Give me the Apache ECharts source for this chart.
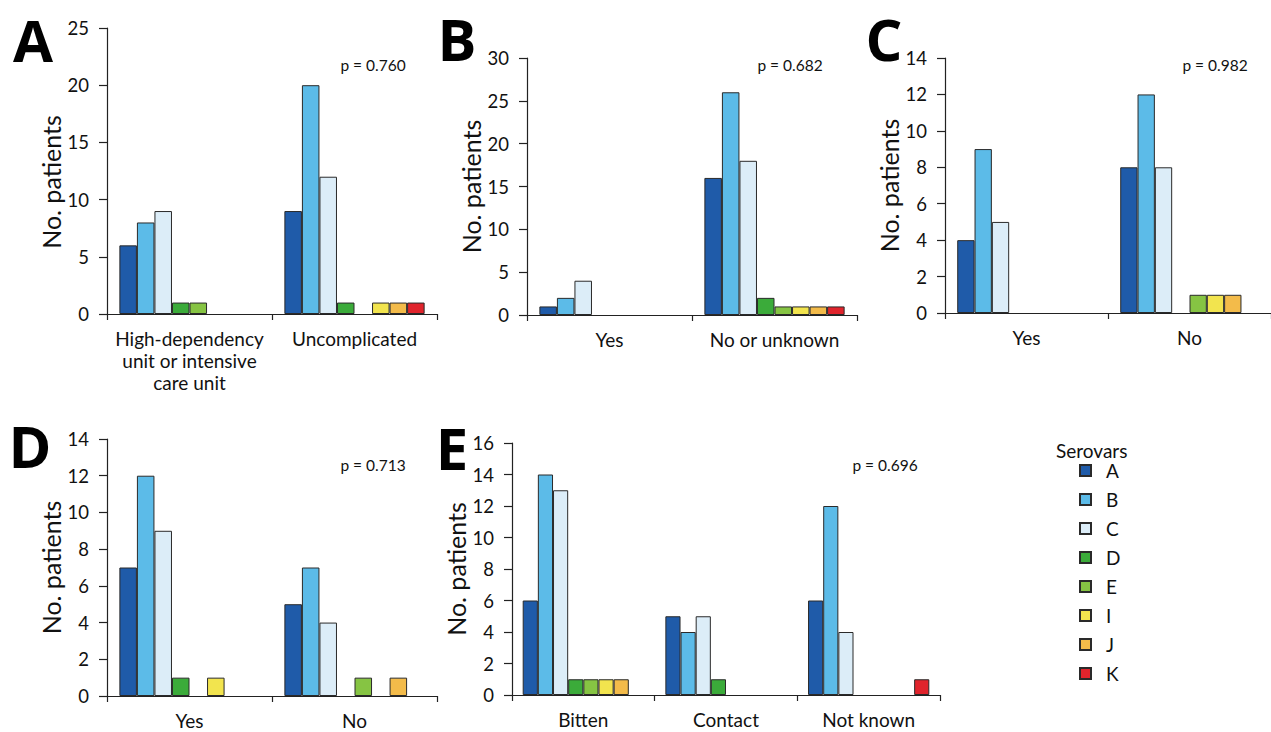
<!DOCTYPE html>
<html>
<head>
<meta charset="utf-8">
<script src="https://cdn.jsdelivr.net/npm/echarts@6/dist/echarts.min.js"></script>
<style>
html,body{margin:0;padding:0;background:#fff;}
#chart{width:1271px;height:732px;}
</style>
</head>
<body>
<div id="chart"></div>
<script>
// ---- data ----
var serovars = ['A', 'B', 'C', 'D', 'E', 'I', 'J', 'K'];
var serovarColors = ['#1f5ba9', '#5cbbe8', '#dcedf8', '#3bab3a', '#86c443', '#f2e44e', '#f3bb4a', '#e0242c'];

// Panel A: severity
var catsA = ['High-dependency\nunit or intensive\ncare unit', 'Uncomplicated'];
var a_hdu = [6, 8, 9, 1, 1, 0, 0, 0];
var a_uncomplicated = [9, 20, 12, 1, 0, 1, 1, 1];
var pA = 'p = 0.760';

// Panel B
var catsB = ['Yes', 'No or unknown'];
var b_yes = [1, 2, 4, 0, 0, 0, 0, 0];
var b_no = [16, 26, 18, 2, 1, 1, 1, 1];
var pB = 'p = 0.682';

// Panel C
var catsC = ['Yes', 'No'];
var c_yes = [4, 9, 5, 0, 0, 0, 0, 0];
var c_no = [8, 12, 8, 0, 1, 1, 1, 0];
var pC = 'p = 0.982';

// Panel D
var catsD = ['Yes', 'No'];
var d_yes = [7, 12, 9, 1, 0, 1, 0, 0];
var d_no = [5, 7, 4, 0, 1, 0, 1, 0];
var pD = 'p = 0.713';

// Panel E
var catsE = ['Bitten', 'Contact', 'Not known'];
var e_bitten = [6, 14, 13, 1, 1, 1, 1, 0];
var e_contact = [5, 4, 5, 1, 0, 0, 0, 0];
var e_notknown = [6, 12, 4, 0, 0, 0, 0, 1];
var pE = 'p = 0.696';

// y-axis tick settings
var yMaxes = [25, 30, 14, 14, 16];
var yIntervals = [5, 5, 2, 2, 2];

var panels = [
  { letter: 'A', cats: catsA, groups: [a_hdu, a_uncomplicated], p: pA },
  { letter: 'B', cats: catsB, groups: [b_yes, b_no], p: pB },
  { letter: 'C', cats: catsC, groups: [c_yes, c_no], p: pC },
  { letter: 'D', cats: catsD, groups: [d_yes, d_no], p: pD },
  { letter: 'E', cats: catsE, groups: [e_bitten, e_contact, e_notknown], p: pE }
];

// ---- layout (pixels) ----
var gridBoxes = [
  { left: 107, top: 28, width: 330, height: 286 },
  { left: 527, top: 58, width: 330, height: 257 },
  { left: 945, top: 58, width: 326, height: 255 },
  { left: 107, top: 439, width: 330, height: 257 },
  { left: 512, top: 443, width: 428, height: 252 }
];
var letterPos = [[33, 39], [457, 38], [884, 38], [30, 445], [452, 447]];
var pPos = [[373, 65], [790, 65], [1215, 65], [373, 465], [885, 465]];
var yNamePadding = [[0, 22, 0, 0], [0, 0, 0, 0], [0, 0, 0, 0], [0, 0, 0, 0], [0, 0, 0, 0]];

var FONT = 'Lato, "Open Sans", sans-serif';
var TXT = '#111';

var grids = [], xAxes = [], yAxes = [], series = [], graphics = [];

panels.forEach(function (p, i) {
  var g = gridBoxes[i];
  grids.push({ left: g.left, top: g.top, width: g.width, height: g.height, containLabel: false });
  xAxes.push({
    type: 'category', gridIndex: i, data: p.cats,
    axisLine: { lineStyle: { color: '#222', width: 1.2 } },
    axisTick: { show: true, length: 6, alignWithLabel: false, lineStyle: { color: '#222', width: 1.2 } },
    axisLabel: { color: TXT, fontSize: 19, fontFamily: FONT, margin: 13, lineHeight: 22, interval: 0 },
    splitLine: { show: false }
  });
  yAxes.push({
    type: 'value', gridIndex: i, min: 0, max: yMaxes[i], interval: yIntervals[i],
    name: 'No. patients', nameLocation: 'middle', nameGap: 44, nameRotate: 90,
    nameTextStyle: { color: TXT, fontSize: 25, fontFamily: FONT, padding: yNamePadding[i] },
    axisLine: { show: true, lineStyle: { color: '#222', width: 1.2 } },
    axisTick: { show: true, length: 8, lineStyle: { color: '#222', width: 1.2 } },
    axisLabel: { color: TXT, fontSize: 18.5, fontFamily: FONT, margin: 18 },
    splitLine: { show: false }
  });
  serovars.forEach(function (s, k) {
    series.push({
      name: s, type: 'bar', xAxisIndex: i, yAxisIndex: i,
      data: p.groups.map(function (grp) { return grp[k] === 0 ? null : grp[k]; }),
      barGap: '0%', barCategoryGap: '15%',
      itemStyle: { color: serovarColors[k], borderColor: '#2a2a2a', borderWidth: 1 },
      emphasis: { disabled: true },
      animation: false
    });
  });
  graphics.push({
    type: 'text', x: letterPos[i][0], y: letterPos[i][1],
    style: { text: p.letter, fill: '#000', font: 'bold 58px "Open Sans", Lato, sans-serif', textAlign: 'center', textVerticalAlign: 'middle' }
  });
  graphics.push({
    type: 'text', x: pPos[i][0], y: pPos[i][1],
    style: { text: p.p, fill: TXT, font: '15.5px ' + FONT, textAlign: 'center', textVerticalAlign: 'middle' }
  });
});

graphics.push({
  type: 'text', x: 1056, y: 450,
  style: { text: 'Serovars', fill: TXT, font: '19px ' + FONT, textAlign: 'left', textVerticalAlign: 'middle' }
});

var chart = echarts.init(document.getElementById('chart'), null, { renderer: 'svg' });
chart.setOption({
  backgroundColor: '#fff',
  animation: false,
  grid: grids,
  xAxis: xAxes,
  yAxis: yAxes,
  series: series,
  legend: {
    data: serovars, orient: 'vertical', left: 1074, top: 456,
    itemWidth: 11, itemHeight: 11, itemGap: 10, icon: 'rect',
    selectedMode: false,
    textStyle: { color: TXT, fontSize: 19, fontFamily: FONT, padding: [0, 0, 0, 10] }
  },
  graphic: graphics
});
</script>
</body>
</html>
